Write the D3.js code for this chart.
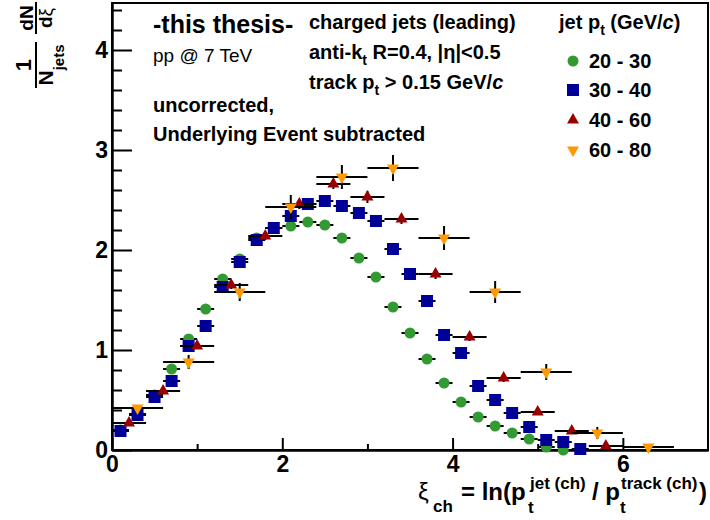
<!DOCTYPE html>
<html>
<head>
<meta charset="utf-8">
<script src="https://cdn.jsdelivr.net/npm/d3@7"></script>
<style>
  body { margin: 0; background: #fff; }
  text { font-family: "Liberation Sans", Arial, Helvetica, sans-serif; }
</style>
</head>
<body>
<div id="chart"></div>
<script>
// jet pt 20-30 (bins of 0.2)
const xiA = [0.1,0.3,0.5,0.7,0.9,1.1,1.3,1.5,1.7,1.9,2.1,2.3,2.5,2.7,2.9,3.1,3.3,3.5,3.7,3.9,4.1,4.3,4.5,4.7,4.9,5.1,5.3];
const valA = [0.20,0.36,0.55,0.81,1.11,1.41,1.71,1.91,2.12,2.22,2.24,2.28,2.25,2.12,1.92,1.73,1.43,1.17,0.91,0.67,0.48,0.33,0.24,0.17,0.11,0.03,0.00];
// jet pt 30-40 (bins of 0.2)
const xiB = [0.1,0.3,0.5,0.7,0.9,1.1,1.3,1.5,1.7,1.9,2.1,2.3,2.5,2.7,2.9,3.1,3.3,3.5,3.7,3.9,4.1,4.3,4.5,4.7,4.9,5.1,5.3,5.5];
const valB = [0.19,0.35,0.53,0.69,1.04,1.24,1.63,1.88,2.10,2.22,2.34,2.46,2.49,2.44,2.37,2.29,2.01,1.76,1.49,1.15,0.97,0.64,0.50,0.37,0.23,0.10,0.08,0.01];
// jet pt 40-60 (bins of 0.4)
const xiC = [0.2,0.6,1.0,1.4,1.8,2.2,2.6,3.0,3.4,3.8,4.2,4.6,5.0,5.4,5.8];
const valC = [0.27,0.59,1.04,1.65,2.14,2.46,2.66,2.53,2.31,1.76,1.13,0.72,0.38,0.19,0.04];
const errC = [0.02,0.03,0.03,0.04,0.04,0.05,0.05,0.06,0.05,0.05,0.04,0.04,0.03,0.03,0.02];
// jet pt 60-80 (bins of 0.6)
const xiD = [0.3,0.9,1.5,2.1,2.7,3.3,3.9,4.5,5.1,5.7,6.3];
const valD = [0.42,0.88,1.58,2.43,2.73,2.82,2.12,1.58,0.78,0.17,0.03];
const errD = [0.03,0.07,0.09,0.12,0.12,0.13,0.12,0.11,0.08,0.06,0.03];

const xMajor = [0,2,4,6], xMinor = [1,3,5];
const yMajor = [0,1,2,3,4];
const yMinor = [0.2,0.4,0.6,0.8,1.2,1.4,1.6,1.8,2.2,2.4,2.6,2.8,3.2,3.4,3.6,3.8,4.2,4.4];

const width = 710, height = 520;
const fr = {left: 112, right: 708, top: 3, bottom: 450};

const svg = d3.select("#chart").append("svg")
  .attr("width", width).attr("height", height);

const x = d3.scaleLinear().domain([0, 7]).range([fr.left, fr.right]);
const y = d3.scaleLinear().domain([0, 4.47]).range([fr.bottom, fr.top]);

// frame
svg.append("rect")
  .attr("x", fr.left).attr("y", fr.top)
  .attr("width", fr.right - fr.left).attr("height", fr.bottom - fr.top)
  .attr("fill", "none").attr("stroke", "#000").attr("stroke-width", 2);

// axes, ticks pointing inside like ROOT
function styleAxis(g) {
  g.select(".domain").attr("stroke-width", 2);
  g.selectAll(".tick line").attr("stroke-width", 2);
  g.selectAll("text").attr("font-family", '"Liberation Sans", Arial, sans-serif')
    .attr("font-weight", "bold").attr("font-size", 23).attr("fill", "#000");
}
svg.append("g").attr("transform", `translate(0,${fr.bottom})`)
  .call(d3.axisBottom(x).tickValues(xMinor).tickSize(-6).tickSizeOuter(0).tickFormat(""))
  .call(styleAxis);
svg.append("g").attr("transform", `translate(0,${fr.bottom})`)
  .call(d3.axisBottom(x).tickValues(xMajor).tickSizeInner(-12).tickSizeOuter(0).tickPadding(6).tickFormat(d3.format("d")))
  .call(styleAxis);
svg.append("g").attr("transform", `translate(${fr.left},0)`)
  .call(d3.axisLeft(y).tickValues(yMinor).tickSize(-10).tickSizeOuter(0).tickFormat(""))
  .call(styleAxis);
svg.append("g").attr("transform", `translate(${fr.left},0)`)
  .call(d3.axisLeft(y).tickValues(yMajor).tickSizeInner(-20).tickSizeOuter(0).tickPadding(4).tickFormat(d3.format("d")))
  .call(styleAxis);

// series
const series = [
  {label: "20 - 30", xs: xiA, ys: valA, ey: valA.map(() => 0.01), hw: 0.1, color: "#339933", type: d3.symbolCircle, size: 95, rot: 0},
  {label: "30 - 40", xs: xiB, ys: valB, ey: valB.map(() => 0.01), hw: 0.1, color: "#000099", type: d3.symbolSquare, size: 144, rot: 0},
  {label: "40 - 60", xs: xiC, ys: valC, ey: errC, hw: 0.2, color: "#990000", type: d3.symbolTriangle, size: 62, rot: 0},
  {label: "60 - 80", xs: xiD, ys: valD, ey: errD, hw: 0.3, color: "#ff9900", type: d3.symbolTriangle, size: 62, rot: 180}
];

series.forEach(s => {
  const pts = s.xs.map((xv, i) => ({x: xv, y: s.ys[i], e: s.ey[i]}));
  const g = svg.append("g");
  g.selectAll(".hbar").data(pts).join("line")
    .attr("x1", d => x(d.x - s.hw)).attr("x2", d => x(d.x + s.hw))
    .attr("y1", d => y(d.y)).attr("y2", d => y(d.y))
    .attr("stroke", "#000").attr("stroke-width", 2);
  g.selectAll(".vbar").data(pts).join("line")
    .attr("x1", d => x(d.x)).attr("x2", d => x(d.x))
    .attr("y1", d => y(d.y - d.e)).attr("y2", d => y(d.y + d.e))
    .attr("stroke", "#000").attr("stroke-width", 2);
  g.selectAll(".mk").data(pts).join("path")
    .attr("d", d3.symbol(s.type, s.size))
    .attr("transform", d => `translate(${x(d.x)},${y(d.y)}) rotate(${s.rot})`)
    .attr("fill", s.color);
});

// legend
const legY = [61, 90, 120, 150];
series.forEach((s, i) => {
  svg.append("path").attr("d", d3.symbol(s.type, s.size))
    .attr("transform", `translate(573,${legY[i]}) rotate(${s.rot})`)
    .attr("fill", s.color);
  svg.append("text").attr("x", 589).attr("y", legY[i] + 7)
    .attr("font-weight", "bold").attr("font-size", 20).text(s.label);
});

function subText(xp, yp, parts, size) {
  const t = svg.append("text").attr("x", xp).attr("y", yp)
    .attr("font-weight", "bold").attr("font-size", size);
  parts.forEach(p => {
    const sp = t.append("tspan").text(p.t);
    if (p.sub) sp.attr("font-size", 14).attr("dy", 6);
    if (p.after) sp.attr("dy", -6);
    if (p.it) sp.attr("font-style", "italic");
  });
  return t;
}

subText(559, 29, [{t: "jet p"}, {t: "t", sub: true}, {t: " (GeV/", after: true}, {t: "c", it: true}, {t: ")"}], 20);

// annotations
svg.append("text").attr("x", 153).attr("y", 33)
  .attr("font-family", '"Liberation Serif", "Times New Roman", serif')
  .attr("font-weight", "bold").attr("font-size", 25).text("-this thesis-");
svg.append("text").attr("x", 153).attr("y", 62).attr("font-size", 19).text("pp @ 7 TeV");
svg.append("text").attr("x", 153).attr("y", 112).attr("font-weight", "bold").attr("font-size", 20).text("uncorrected,");
svg.append("text").attr("x", 153).attr("y", 141).attr("font-weight", "bold").attr("font-size", 20).text("Underlying Event subtracted");

svg.append("text").attr("x", 309).attr("y", 29).attr("font-weight", "bold").attr("font-size", 20).text("charged jets (leading)");
subText(309, 59, [{t: "anti-k"}, {t: "t", sub: true}, {t: " R=0.4, |η|<0.5", after: true}], 20);
subText(309, 89, [{t: "track p"}, {t: "t", sub: true}, {t: " > 0.15 GeV/", after: true}, {t: "c", it: true}], 20);

// x axis title
const xt = [
  {t: "ξ", x: 418, y: 500, s: 24, w: "normal"},
  {t: "ch", x: 433, y: 512, s: 17, w: "bold"},
  {t: "= ln(p", x: 461, y: 500, s: 24, w: "bold"},
  {t: "t", x: 528, y: 513, s: 17, w: "bold"},
  {t: "jet (ch)", x: 530, y: 489, s: 17, w: "bold"},
  {t: "/ p", x: 592, y: 500, s: 24, w: "bold"},
  {t: "t", x: 620, y: 513, s: 17, w: "bold"},
  {t: "track (ch)", x: 621, y: 489, s: 17, w: "bold"},
  {t: ")", x: 699, y: 500, s: 24, w: "bold"}
];
xt.forEach(p => svg.append("text").attr("x", p.x).attr("y", p.y)
  .attr("font-size", p.s).attr("font-weight", p.w).text(p.t));

// y axis title: 1/N_jets dN/dxi, rotated
const yt = svg.append("g").attr("transform", "translate(36,90) rotate(-90)");
yt.append("line").attr("x1", 2).attr("x2", 48).attr("y1", 0).attr("y2", 0)
  .attr("stroke", "#000").attr("stroke-width", 2);
yt.append("line").attr("x1", 56).attr("x2", 88).attr("y1", 0).attr("y2", 0)
  .attr("stroke", "#000").attr("stroke-width", 2);
yt.append("text").attr("x", 25).attr("y", -5).attr("text-anchor", "middle")
  .attr("font-weight", "bold").attr("font-size", 22).text("1");
const nj = yt.append("text").attr("x", 25).attr("y", 17).attr("text-anchor", "middle")
  .attr("font-weight", "bold").attr("font-size", 21);
nj.append("tspan").text("N");
nj.append("tspan").attr("font-size", 15).attr("dy", 11).text("jets");
yt.append("text").attr("x", 72).attr("y", -3).attr("text-anchor", "middle")
  .attr("font-weight", "bold").attr("font-size", 19).text("dN");
const dx = yt.append("text").attr("x", 72).attr("y", 16).attr("text-anchor", "middle")
  .attr("font-size", 19);
dx.append("tspan").attr("font-weight", "bold").text("d");
dx.append("tspan").text("ξ");
</script>
</body>
</html>
